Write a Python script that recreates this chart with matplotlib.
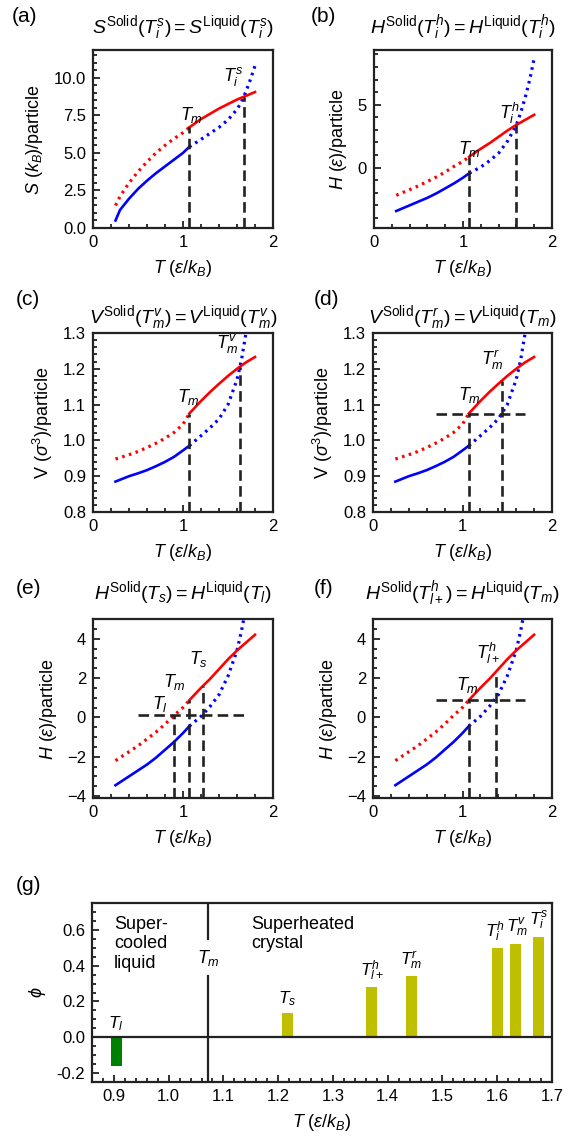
import numpy as np
import matplotlib
matplotlib.use('Agg')
import matplotlib.pyplot as plt
from matplotlib.ticker import MultipleLocator, FormatStrFormatter

plt.rcParams['font.family'] = ['Liberation Sans', 'DejaVu Sans']
plt.rcParams['mathtext.fontset'] = 'custom'
plt.rcParams['mathtext.rm'] = 'Liberation Sans'
plt.rcParams['mathtext.it'] = 'Liberation Sans:italic'
plt.rcParams['mathtext.bf'] = 'Liberation Sans:bold'
plt.rcParams['axes.unicode_minus'] = True

# ---- data ----
# temperatures of the stable branches (T < Tm for solid, T > Tm for liquid)
T_low = [0.25, 0.3, 0.4, 0.5, 0.6, 0.7, 0.8, 0.9, 1.0, 1.07]
T_high = [1.07, 1.2, 1.3, 1.4, 1.5, 1.6, 1.7, 1.8]
T_sh = [1.07, 1.2, 1.3, 1.4, 1.5, 1.6, 1.65, 1.7, 1.75, 1.8]

# entropy S (kB)/particle
S_solid = [0.5, 1.2, 1.95, 2.6, 3.15, 3.65, 4.1, 4.55, 5.0, 5.4]
S_liq_sc = [1.5, 2.1, 3.0, 3.75, 4.4, 5.0, 5.5, 5.95, 6.35, 6.7]
S_liq = [6.7, 7.25, 7.6, 7.95, 8.25, 8.55, 8.8, 9.05]
S_solid_sh = [5.4, 5.9, 6.3, 6.7, 7.2, 7.9, 8.4, 9.1, 9.9, 10.8]

# enthalpy H (eps)/particle
H_solid = [-3.45, -3.3, -3.0, -2.7, -2.4, -2.05, -1.65, -1.25, -0.8, -0.45]
H_liq_sc = [-2.2, -2.05, -1.75, -1.45, -1.1, -0.75, -0.35, 0.1, 0.5, 0.87]
H_liq = [0.87, 1.5, 1.95, 2.45, 2.95, 3.4, 3.8, 4.2]
H_solid_sh = [-0.45, 0.05, 0.55, 1.15, 2.1, 3.4, 4.4, 5.6, 7.0, 8.7]

# volume V (sigma^3)/particle
V_solid = [0.885, 0.89, 0.9, 0.908, 0.917, 0.928, 0.94, 0.954, 0.972, 0.985]
V_liq_sc = [0.948, 0.952, 0.96, 0.969, 0.98, 0.992, 1.006, 1.022, 1.045, 1.075]
V_liq = [1.075, 1.11, 1.135, 1.158, 1.18, 1.2, 1.218, 1.233]
V_solid_sh = [0.985, 1.013, 1.035, 1.06, 1.1, 1.17, 1.225, 1.30, 1.40, 1.50]

# characteristic temperatures
Tm = 1.072
T_names = [r'$T_l$', r'$T_s$', r'$T_{l+}^h$', r'$T_m^r$', r'$T_i^h$', r'$T_m^v$', r'$T_i^s$']
T_vals = [0.904, 1.217, 1.371, 1.443, 1.601, 1.633, 1.675]
phi_vals = [-0.162, 0.137, 0.279, 0.344, 0.496, 0.522, 0.561]

# values where the guide lines end
S_Tm, S_Tis = 6.7, 8.75
H_Tm, H_Tih = 0.87, 3.4
V_Tm, V_Tmv, V_Tmr = 1.075, 1.206, 1.167
H_level_e, H_Ts = 0.1, 1.6
H_level_f, H_Tlp = 0.87, 2.33

W, H = 578, 1136
fig = plt.figure(figsize=(W / 100, H / 100), dpi=100)


def rect(l, r, t, b):
    return [l / W, 1 - b / H, (r - l) / W, (b - t) / H]


blue = '#0000ff'
red = '#ff0000'
dash = (0, (4, 2))
dot = (0, (0.8, 1.4))
gcol = '#222222'
tick_fs = 12
lab_fs = 13
title_fs = 14


def style(ax, xmaj, xmin, ymaj, ymin):
    for s in ax.spines.values():
        s.set_linewidth(1.6)
        s.set_color('#222222')
    ax.xaxis.set_major_locator(MultipleLocator(xmaj))
    ax.xaxis.set_minor_locator(MultipleLocator(xmin))
    ax.yaxis.set_major_locator(MultipleLocator(ymaj))
    ax.yaxis.set_minor_locator(MultipleLocator(ymin))
    ax.tick_params(which='both', direction='in', top=False, right=False,
                   labelsize=tick_fs, width=1.3, color='#222222', pad=5)
    ax.tick_params(which='major', length=5)
    ax.tick_params(which='minor', length=3)


def curves(ax, lo, sc, hi, sh):
    ax.plot(T_low, lo, color=blue, lw=1.9)
    ax.plot(T_sh, sh, color=blue, lw=2.3, ls=dot)
    ax.plot(T_low, sc, color=red, lw=2.3, ls=dot)
    ax.plot(T_high, hi, color=red, lw=1.9)


def vguide(ax, x, y0, y1):
    ax.plot([x, x], [y0, y1], color=gcol, lw=1.9, ls=dash)


def hguide(ax, x0, x1, y):
    ax.plot([x0, x1], [y, y], color=gcol, lw=1.9, ls=dash)


def finish(ax, ylab, title, pad):
    ax.set_ylabel(ylab, fontsize=lab_fs, labelpad=6)
    ax.set_xlabel(r'$T$ ($\varepsilon/k_B$)', fontsize=lab_fs, labelpad=6)
    if title:
        ax.set_title(title, fontsize=title_fs, pad=pad)


def lab(ax, x, y, s, size=lab_fs):
    ax.text(x, y, s, fontsize=size, ha='center', va='center')


# (a)
ax = fig.add_axes(rect(93, 273, 50, 228))
curves(ax, S_solid, S_liq_sc, S_liq, S_solid_sh)
ax.set_xlim(0, 2)
ax.set_ylim(0, 11.85)
vguide(ax, Tm, 0, S_Tm)
vguide(ax, T_vals[6], 0, S_Tis)
style(ax, 1, 0.2, 2.5, 0.5)
ax.yaxis.set_major_formatter(FormatStrFormatter('%.1f'))
finish(ax, r'$S$ ($k_B$)/particle', r'$S^{\rm Solid}(T_i^s) = S^{\rm Liquid}(T_i^s)$', 12)
lab(ax, 1.09, 7.5, r'$T_m$')
lab(ax, 1.56, 10.1, r'$T_i^s$')

# (b)
ax = fig.add_axes(rect(374, 552, 50, 228))
curves(ax, H_solid, H_liq_sc, H_liq, H_solid_sh)
ax.set_xlim(0, 2)
ax.set_ylim(-4.8, 9.35)
vguide(ax, Tm, -4.8, H_Tm)
vguide(ax, T_vals[4], -4.8, H_Tih)
style(ax, 1, 0.2, 5, 1)
finish(ax, r'$H$ ($\varepsilon$)/particle', r'$H^{\rm Solid}(T_i^h) = H^{\rm Liquid}(T_i^h)$', 12)
lab(ax, 1.07, 1.45, r'$T_m$')
lab(ax, 1.52, 4.3, r'$T_i^h$')

# (c)
ax = fig.add_axes(rect(93, 273, 333, 512))
curves(ax, V_solid, V_liq_sc, V_liq, V_solid_sh)
ax.set_xlim(0, 2)
ax.set_ylim(0.8, 1.3)
vguide(ax, Tm, 0.8, V_Tm)
vguide(ax, T_vals[5], 0.8, V_Tmv)
style(ax, 1, 0.2, 0.1, 0.02)
ax.yaxis.set_major_formatter(FormatStrFormatter('%.1f'))
finish(ax, r'V ($\sigma^3$)/particle', r'$V^{\rm Solid}(T_m^v) = V^{\rm Liquid}(T_m^v)$', 7)
lab(ax, 1.06, 1.122, r'$T_m$')
lab(ax, 1.49, 1.27, r'$T_m^v$')

# (d)
ax = fig.add_axes(rect(373, 552, 333, 512))
curves(ax, V_solid, V_liq_sc, V_liq, V_solid_sh)
ax.set_xlim(0, 2)
ax.set_ylim(0.8, 1.3)
hguide(ax, 0.7, 1.7, V_Tm)
vguide(ax, Tm, 0.8, V_Tm)
vguide(ax, T_vals[3], 0.8, V_Tmr)
style(ax, 1, 0.2, 0.1, 0.02)
ax.yaxis.set_major_formatter(FormatStrFormatter('%.1f'))
finish(ax, r'V ($\sigma^3$)/particle', r'$V^{\rm Solid}(T_m^r) = V^{\rm Liquid}(T_m)$', 7)
lab(ax, 1.08, 1.127, r'$T_m$')
lab(ax, 1.34, 1.225, r'$T_m^r$')

# (e)
ax = fig.add_axes(rect(93, 273, 619, 798))
curves(ax, H_solid, H_liq_sc, H_liq, H_solid_sh)
ax.set_xlim(0, 2)
ax.set_ylim(-4.1, 5.0)
hguide(ax, 0.5, 1.7, H_level_e)
vguide(ax, T_vals[0], -4.1, H_level_e)
vguide(ax, Tm, -4.1, H_Tm)
vguide(ax, T_vals[1], -4.1, H_Ts)
style(ax, 1, 0.2, 2, 0.5)
finish(ax, r'$H$ ($\varepsilon$)/particle', r'$H^{\rm Solid}(T_s) = H^{\rm Liquid}(T_l)$', 14)
lab(ax, 1.17, 2.95, r'$T_s$')
lab(ax, 0.9, 1.8, r'$T_m$')
lab(ax, 0.75, 0.68, r'$T_l$')

# (f)
ax = fig.add_axes(rect(373, 552, 619, 798))
curves(ax, H_solid, H_liq_sc, H_liq, H_solid_sh)
ax.set_xlim(0, 2)
ax.set_ylim(-4.1, 5.0)
hguide(ax, 0.7, 1.7, H_level_f)
vguide(ax, Tm, -4.1, H_level_f)
vguide(ax, T_vals[2], -4.1, H_Tlp)
style(ax, 1, 0.2, 2, 0.5)
finish(ax, r'$H$ ($\varepsilon$)/particle', r'$H^{\rm Solid}(T_{l+}^h) = H^{\rm Liquid}(T_m)$', 14)
lab(ax, 1.29, 3.26, r'$T_{l+}^h$')
lab(ax, 1.06, 1.64, r'$T_m$')

# (g)
ax = fig.add_axes(rect(92, 552, 903, 1082))
cols = ['#008000' if p < 0 else '#bfbf00' for p in phi_vals]
ax.bar(T_vals, phi_vals, width=0.02, color=cols, zorder=2)
ax.set_xlim(0.86, 1.70)
ax.set_ylim(-0.25, 0.75)
ax.axhline(0, color='#222222', lw=1.6, zorder=3)
ax.plot([Tm, Tm], [-0.25, 0.34], color='#222222', lw=1.6)
ax.plot([Tm, Tm], [0.55, 0.75], color='#222222', lw=1.6)
lab(ax, Tm, 0.44, r'$T_m$')
# the two crowded labels at T_i^h and T_m^v are nudged apart a little
nudge = {r'$T_i^h$': -0.005, r'$T_m^v$': 0.004}
for name, t, p in zip(T_names, T_vals, phi_vals):
    ax.text(t + nudge.get(name, 0), max(p, 0) + 0.025, name, fontsize=12.5,
            ha='center', va='bottom')
ax.text(0.9, 0.68, 'Super-\ncooled\nliquid', fontsize=lab_fs, ha='left', va='top',
        linespacing=1.2)
ax.text(1.15, 0.68, 'Superheated\ncrystal', fontsize=lab_fs, ha='left', va='top',
        linespacing=1.2)
style(ax, 0.1, 0.02, 0.2, 0.05)
ax.xaxis.set_major_formatter(FormatStrFormatter('%.1f'))
ax.yaxis.set_major_formatter(FormatStrFormatter('%.1f'))
finish(ax, r'$\phi$', None, 0)

# panel letters
for letter, x, y in [('(a)', 12, 7), ('(b)', 311, 7), ('(c)', 16, 290), ('(d)', 314, 290),
                     ('(e)', 16, 579), ('(f)', 314, 579), ('(g)', 16, 876)]:
    fig.text(x / W, 1 - y / H, letter, fontsize=15, ha='left', va='top')

fig.savefig('out.png', dpi=100)
